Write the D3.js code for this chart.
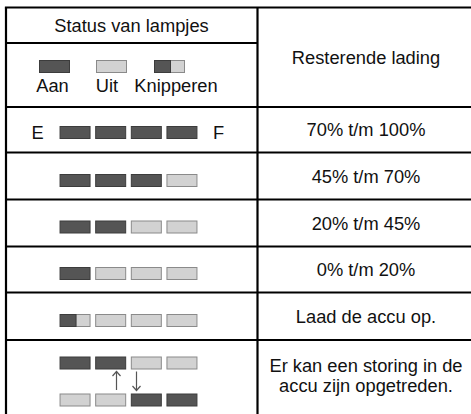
<!DOCTYPE html>
<html><head><meta charset="utf-8">
<script src="https://cdn.jsdelivr.net/npm/d3@7"></script>
<style>
html,body{margin:0;padding:0;background:#fff;}
text{font-family:"Liberation Sans",Arial,Helvetica,sans-serif;fill:#111;}
</style></head>
<body>
<svg id="c" width="471" height="414"></svg>
<script>
// ---- data ----
const headerLeft = "Status van lampjes";
const headerRight = "Resterende lading";
const legendLabels = ["Aan", "Uit", "Knipperen"];
const legendStates = ["on", "off", "blink"];
const lampRows = [
  ["on", "on", "on", "on"],
  ["on", "on", "on", "off"],
  ["on", "on", "off", "off"],
  ["on", "off", "off", "off"],
  ["blink", "off", "off", "off"]
];
const chargeLabels = ["70% t/m 100%", "45% t/m 70%", "20% t/m 45%", "0% t/m 20%", "Laad de accu op."];
const errorTop = ["on", "on", "off", "off"];
const errorBottom = ["off", "off", "on", "on"];
const errorLabel = ["Er kan een storing in de", "accu zijn opgetreden."];
const endLabels = ["E", "F"];

// ---- layout ----
(function () {
const svg = d3.select("#c");
const fs = 18.3;
const tLeft = 6, tTop = 7.5, colX = 257.5, tRight = 471, tBottom = 414;
const rowEdges = [tTop, 107, 152.5, 199.5, 246.5, 292.5, 340, tBottom];
const headerSplit = 43;
const leftCx = 131.5, rightCx = 366;

const fill = {on: "#555555", off: "#d2d2d2"};
const stroke = {on: "#3c3c3c", off: "#8a8a8a"};
const lampX = d3.scaleBand().domain(d3.range(4)).range([57.5, 199.5]).paddingInner(0.155).paddingOuter(0.07);
const W = 30, H = 12;

function lamp(g, state, x, y, w) {
  if (state === "blink") {
    g.append("rect").attr("x", x + w/2).attr("y", y).attr("width", w/2).attr("height", H)
      .attr("fill", fill.off).attr("stroke", stroke.off).attr("stroke-width", 1);
    g.append("rect").attr("x", x).attr("y", y).attr("width", w/2 + 1).attr("height", H)
      .attr("fill", fill.on).attr("stroke", stroke.on).attr("stroke-width", 1);
  } else {
    g.append("rect").attr("x", x).attr("y", y).attr("width", w).attr("height", H)
      .attr("fill", fill[state]).attr("stroke", stroke[state]).attr("stroke-width", 1);
  }
}
function lampRow(states, yTop) {
  const g = svg.append("g");
  states.forEach((s, i) => lamp(g, s, lampX(i) + (lampX.bandwidth() - W)/2, yTop, W));
}

// grid lines
const lines = svg.append("g").attr("stroke", "#000").attr("stroke-width", 2.2);
lines.append("line").attr("x1", tLeft - 1.1).attr("x2", tRight).attr("y1", tTop).attr("y2", tTop);
lines.append("line").attr("x1", tLeft).attr("x2", tLeft).attr("y1", tTop).attr("y2", tBottom);
lines.append("line").attr("x1", colX).attr("x2", colX).attr("y1", tTop).attr("y2", tBottom);
lines.append("line").attr("x1", tLeft).attr("x2", colX).attr("y1", headerSplit).attr("y2", headerSplit);
rowEdges.slice(1, -1).forEach(y => {
  lines.append("line").attr("x1", tLeft).attr("x2", tRight).attr("y1", y).attr("y2", y);
});

// header
svg.append("text").attr("x", leftCx).attr("y", 31.5).attr("text-anchor", "middle")
  .attr("font-size", fs).text(headerLeft);
svg.append("text").attr("x", rightCx).attr("y", 63.5).attr("text-anchor", "middle")
  .attr("font-size", fs).text(headerRight);

// legend
const legX = [39.5, 96.5, 154.5];
const legG = svg.append("g");
legendStates.forEach((s, i) => lamp(legG, s, legX[i], 60.5, 30));
const legLabelX = [52.5, 107, 176];
legendLabels.forEach((t, i) => {
  svg.append("text").attr("x", legLabelX[i]).attr("y", 92).attr("text-anchor", "middle")
    .attr("font-size", fs).text(t);
});

// level rows
const lampTops = [126.5, 174.5, 221, 267.5, 314.5];
lampRows.forEach((r, i) => {
  lampRow(r, lampTops[i]);
  const cy = (rowEdges[i+1] + rowEdges[i+2]) / 2;
  svg.append("text").attr("x", rightCx).attr("y", cy + 6.5).attr("text-anchor", "middle")
    .attr("font-size", fs).text(chargeLabels[i]);
});
svg.append("text").attr("x", 37.5).attr("y", 139).attr("text-anchor", "middle")
  .attr("font-size", fs).attr("fill", "#222").text(endLabels[0]);
svg.append("text").attr("x", 218.5).attr("y", 139).attr("text-anchor", "middle")
  .attr("font-size", fs).attr("fill", "#222").text(endLabels[1]);

// error row
lampRow(errorTop, 357);
lampRow(errorBottom, 394);
const ag = svg.append("g").attr("stroke", "#555").attr("stroke-width", 1.2).attr("fill", "none");
const upX = 116.5, downX = 136.5;
ag.append("line").attr("x1", upX).attr("x2", upX).attr("y1", 390).attr("y2", 371.5);
ag.append("path").attr("d", `M${upX-4},${376} L${upX},${371.5} L${upX+4},${376}`);
ag.append("line").attr("x1", downX).attr("x2", downX).attr("y1", 371.5).attr("y2", 390.5);
ag.append("path").attr("d", `M${downX-4},${386} L${downX},${390.5} L${downX+4},${386}`);
errorLabel.forEach((t, i) => {
  svg.append("text").attr("x", rightCx).attr("y", 372 + i * 19.5).attr("text-anchor", "middle")
    .attr("font-size", fs).text(t);
});
})();
</script>
</body></html>
